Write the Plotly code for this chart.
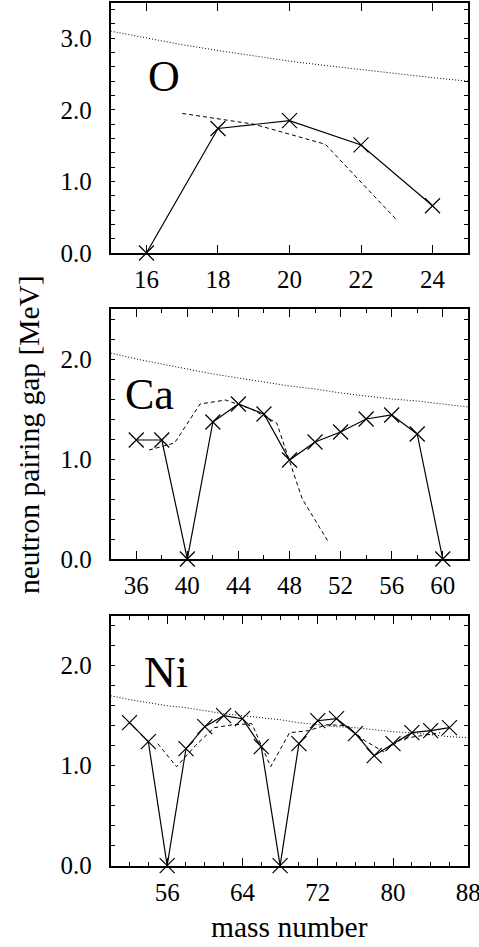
import plotly.graph_objects as go

# ---- O isotopes ----
o_A = [16, 18, 20, 22, 24]
o_gap = [0.00, 1.74, 1.85, 1.51, 0.66]
o_alt_A = [17, 19, 21, 23]
o_alt_gap = [1.95, 1.80, 1.52, 0.46]
o_ref_A = [15, 16, 17, 18, 19, 20, 21, 22, 23, 24, 25]
o_ref_gap = [3.10, 3.00, 2.91, 2.83, 2.75, 2.68, 2.62, 2.56, 2.50, 2.45, 2.40]

# ---- Ca isotopes ----
ca_A = [36, 38, 40, 42, 44, 46, 48, 50, 52, 54, 56, 58, 60]
ca_gap = [1.19, 1.19, 0.00, 1.37, 1.55, 1.45, 0.99, 1.17, 1.27, 1.40, 1.44, 1.25, 0.00]
ca_alt_A = [37, 39, 41, 43, 45, 47, 49, 51]
ca_alt_gap = [1.09, 1.16, 1.55, 1.59, 1.50, 1.36, 0.60, 0.18]
ca_ref_A = [34, 36, 38, 40, 42, 44, 46, 48, 50, 52, 54, 56, 58, 60, 62]
ca_ref_gap = [2.06, 2.00, 1.95, 1.90, 1.85, 1.81, 1.77, 1.73, 1.70, 1.66, 1.63,
              1.60, 1.58, 1.55, 1.52]

# ---- Ni isotopes ----
ni_A = [52, 54, 56, 58, 60, 62, 64, 66, 68, 70, 72, 74, 76, 78, 80, 82, 84, 86]
ni_gap = [1.43, 1.24, 0.00, 1.17, 1.39, 1.50, 1.47, 1.19, 0.00, 1.22, 1.45, 1.47,
          1.32, 1.10, 1.22, 1.33, 1.35, 1.38]
ni_alt_A = [55, 57, 59, 61, 63, 65, 67, 69, 71, 73, 75, 77, 79, 81, 83, 85]
ni_alt_gap = [1.22, 0.99, 1.20, 1.38, 1.41, 1.42, 0.99, 1.33, 1.35, 1.41, 1.40,
              1.25, 1.14, 1.27, 1.30, 1.33]
ni_ref_A = [50, 52, 54, 56, 58, 60, 62, 64, 66, 68, 70, 72, 74, 76, 78, 80, 82,
            84, 86, 88]
ni_ref_gap = [1.70, 1.66, 1.63, 1.60, 1.58, 1.55, 1.52, 1.50, 1.48, 1.46, 1.43,
              1.41, 1.39, 1.38, 1.36, 1.34, 1.33, 1.31, 1.29, 1.28]

panel_names = ["O", "Ca", "Ni"]
x_ranges = [[15, 25], [34, 62], [50, 88]]
y_ranges = [[0, 3.5], [0, 2.5], [0, 2.5]]
x_tick0 = [16, 36, 56]
x_dtick = [2, 4, 8]
x_minor = [None, 2, 2]
name_pos = [(16.5, 2.46), (37.0, 1.65), (55.9, 1.93)]

W, H = 479, 947
FONT = "Liberation Serif"

# panel placement in pixels (top, bottom)
x_px = (110.7, 468.3)
y_px = [(2.5, 253.0), (309.0, 559.0), (615.7, 865.7)]

fig = go.Figure()

series = [
    (o_A, o_gap, o_alt_A, o_alt_gap, o_ref_A, o_ref_gap),
    (ca_A, ca_gap, ca_alt_A, ca_alt_gap, ca_ref_A, ca_ref_gap),
    (ni_A, ni_gap, ni_alt_A, ni_alt_gap, ni_ref_A, ni_ref_gap),
]

for i, (A, g, aA, ag, rA, rg) in enumerate(series):
    xa = "x" if i == 0 else f"x{i + 1}"
    ya = "y" if i == 0 else f"y{i + 1}"
    fig.add_trace(go.Scatter(x=rA, y=rg, mode="lines", xaxis=xa, yaxis=ya,
                             line=dict(color="black", width=1, dash="1px,2px"),
                             showlegend=False, hoverinfo="skip"))
    fig.add_trace(go.Scatter(x=aA, y=ag, mode="lines", xaxis=xa, yaxis=ya,
                             line=dict(color="black", width=1, dash="4px,3px"),
                             showlegend=False, hoverinfo="skip"))
    fig.add_trace(go.Scatter(x=A, y=g, mode="lines+markers", xaxis=xa, yaxis=ya,
                             line=dict(color="black", width=1.2),
                             marker=dict(symbol="x-thin", size=15,
                                         line=dict(color="black", width=1.2)),
                             showlegend=False, cliponaxis=False))

layout = dict(
    width=W, height=H,
    margin=dict(l=0, r=0, t=0, b=0, autoexpand=False),
    paper_bgcolor="white", plot_bgcolor="white",
    font=dict(family=FONT, color="black", size=25),
    annotations=[],
)

for i in range(3):
    xk = "xaxis" if i == 0 else f"xaxis{i + 1}"
    yk = "yaxis" if i == 0 else f"yaxis{i + 1}"
    top, bot = y_px[i]
    xa = dict(
        domain=[x_px[0] / W, x_px[1] / W],
        range=x_ranges[i], tick0=x_tick0[i], dtick=x_dtick[i],
        anchor="y" if i == 0 else f"y{i + 1}",
        automargin=False,
        showgrid=False, zeroline=False,
        showline=True, linecolor="black", linewidth=2, mirror="allticks",
        ticks="inside", ticklen=8, tickwidth=1.2, tickcolor="black",
        ticklabelstandoff=3, ticklabeloverflow="allow",
        tickfont=dict(family=FONT, size=25, color="black"),
    )
    if x_minor[i]:
        xa["minor"] = dict(dtick=x_minor[i], tick0=x_tick0[i], ticks="inside",
                           ticklen=4, tickwidth=1.2, tickcolor="black",
                           showgrid=False)
    ya = dict(
        domain=[1 - bot / H, 1 - top / H],
        range=y_ranges[i], dtick=1, tick0=0, tickformat=".1f",
        anchor="x" if i == 0 else f"x{i + 1}",
        automargin=False,
        showgrid=False, zeroline=False,
        showline=True, linecolor="black", linewidth=2, mirror="allticks",
        ticks="inside", ticklen=4, tickwidth=1.2, tickcolor="black",
        ticklabelstandoff=12,
        tickfont=dict(family=FONT, size=25, color="black"),
        minor=dict(dtick=0.2, ticks="inside", ticklen=4, tickwidth=1.2,
                   tickcolor="black", showgrid=False),
    )
    layout[xk] = xa
    layout[yk] = ya
    nx, ny = name_pos[i]
    layout["annotations"].append(dict(
        text=panel_names[i], x=nx, y=ny,
        xref="x" if i == 0 else f"x{i + 1}",
        yref="y" if i == 0 else f"y{i + 1}",
        showarrow=False, xanchor="center", yanchor="middle",
        font=dict(family=FONT, size=44, color="black"),
    ))

layout["annotations"].append(dict(
    text="neutron pairing gap [MeV]", x=29 / W, y=1 - 435 / H,
    xref="paper", yref="paper", showarrow=False, textangle=-90,
    xanchor="center", yanchor="middle",
    font=dict(family=FONT, size=29.5, color="black"),
))
layout["annotations"].append(dict(
    text="mass number", x=289.5 / W, y=1 - 927 / H,
    xref="paper", yref="paper", showarrow=False,
    xanchor="center", yanchor="middle",
    font=dict(family=FONT, size=29.5, color="black"),
))

fig.update_layout(**layout)
fig.write_html("out.html")
